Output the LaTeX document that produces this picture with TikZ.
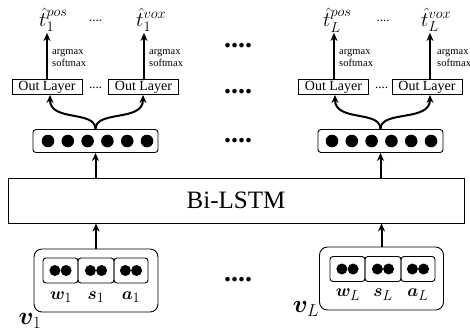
\documentclass[tikz,border=0pt]{standalone}
\usepackage{amsmath}
\usepackage{bm}
\usepackage{fontspec}
\setmainfont{Liberation Serif}
\usetikzlibrary{arrows.meta}

\tikzset{
  box/.style={draw, line width=0.9pt, inner sep=0pt},
  outlayer/.style={box, minimum width=70, minimum height=15, font=\fontsize{14}{14}\selectfont},
  hidbox/.style={box, rounded corners=3, minimum width=125, minimum height=23},
  inbox/.style={box, rounded corners=8, minimum width=124, minimum height=63},
  emb/.style={box, rounded corners=3, minimum height=25},
  up/.style={-{Stealth[length=8,width=7]}, line width=2pt},
  argtext/.style={align=left, inner sep=0pt, anchor=west, font=\fontsize{10.5}{12}\selectfont},
  that/.style={anchor=base west, inner sep=0pt, font=\fontsize{21}{21}\selectfont},
  dots/.style={font=\bfseries\fontsize{28}{28}\selectfont, inner sep=0pt},
  smalldots/.style={font=\fontsize{13}{13}\selectfont, inner sep=0pt}
}

\begin{document}
\begin{tikzpicture}[x=1pt, y=-1pt]
  \useasboundingbox (0,0) rectangle (470,333);

  % Bi-LSTM
  \node[box, minimum width=456, minimum height=45, font=\fontsize{25}{25}\selectfont] (lstm) at (236,200.5) {Bi-LSTM};

  % Hidden vectors
  \node[hidbox] (h1) at (95.5,141) {};
  \node[hidbox] (hL) at (380.5,141) {};
  \foreach \i in {0,...,5} {
    \fill (48+19.8*\i,141) circle (6.3);
    \fill (332+19.8*\i,141) circle (6.3);
  }
  \node[dots] (hdots) at (238,141) {....};
  \draw[up] (lstm.north -| h1) -- (h1.south);
  \draw[up] (lstm.north -| hL) -- (hL.south);

  % Out layers
  \node[outlayer] (o11) at (47,87) {Out Layer};
  \node[outlayer] (o12) at (143.5,87) {Out Layer};
  \node[outlayer] (oL1) at (333.5,87) {Out Layer};
  \node[outlayer] (oL2) at (427,87) {Out Layer};
  \node[smalldots] (od1) at (95.5,88) {....};
  \node[smalldots] (odL) at (381.5,88) {....};
  \node[dots] (odm) at (238,92) {....};

  \draw[up] (h1.north) .. controls (95.5,110) and (50,122) .. (o11.south -| 50,0);
  \draw[up] (h1.north) .. controls (95.5,110) and (143,122) .. (o12.south -| 143,0);
  \draw[up] (hL.north) .. controls (380.5,110) and (335,122) .. (oL1.south -| 335,0);
  \draw[up] (hL.north) .. controls (380.5,110) and (430,122) .. (oL2.south -| 430,0);

  % Outputs
  \coordinate (t11) at (47,33);
  \coordinate (t12) at (144,33);
  \coordinate (tL1) at (334,33);
  \coordinate (tL2) at (430,33);
  \draw[up] (o11.north -| t11) -- (t11);
  \draw[up] (o12.north -| t12) -- (t12);
  \draw[up] (oL1.north -| tL1) -- (tL1);
  \draw[up] (oL2.north -| tL2) -- (tL2);
  \node[argtext] (a11) at (52,58) {argmax\\softmax};
  \node[argtext] (a12) at (149,58) {argmax\\softmax};
  \node[argtext] (aL1) at (339,58) {argmax\\softmax};
  \node[argtext] (aL2) at (437,58) {argmax\\softmax};

  \node[that] (th11) at (39,26) {$\hat{t}_1^{pos}$};
  \node[that] (th12) at (136,26) {$\hat{t}_1^{vox}$};
  \node[that] (thL1) at (323,26) {$\hat{t}_L^{pos}$};
  \node[that] (thL2) at (421,26) {$\hat{t}_L^{vox}$};
  \node[smalldots] (td1) at (95.5,21) {....};
  \node[smalldots] (tdL) at (383,21) {....};
  \node[dots] (tdm) at (238,46) {....};

  % Inputs
  \node[inbox] (v1) at (96,280.5) {};
  \node[inbox] (vL) at (381.5,278.5) {};
  \draw[up] (v1.north) -- (v1.north |- lstm.south);
  \draw[up] (vL.north) -- (vL.north |- lstm.south);
  \node[dots] (vdm) at (238,280) {....};

  \node[emb, minimum width=35] (w1) at (60.5,270.5) {};
  \node[emb, minimum width=36] (s1) at (96,270.5) {};
  \node[emb, minimum width=34] (e1) at (131,270.5) {};
  \node[emb, minimum width=35] (wL) at (347.5,269) {};
  \node[emb, minimum width=36] (sL) at (383,269) {};
  \node[emb, minimum width=34] (eL) at (418,269) {};
  \foreach \n in {w1,s1,e1,wL,sL,eL} {
    \fill ([xshift=-5.6]\n.center) circle (5.5);
    \fill ([xshift=5.6]\n.center) circle (5.5);
  }
  \node[font=\fontsize{19}{19}\selectfont] (lw1) at (61,297) {$\bm{w}_1$};
  \node[font=\fontsize{19}{19}\selectfont] (ls1) at (96,297) {$\bm{s}_1$};
  \node[font=\fontsize{19}{19}\selectfont] (le1) at (131,297) {$\bm{a}_1$};
  \node[font=\fontsize{19}{19}\selectfont] (lwL) at (348,295) {$\bm{w}_L$};
  \node[font=\fontsize{19}{19}\selectfont] (lsL) at (383,295) {$\bm{s}_L$};
  \node[font=\fontsize{19}{19}\selectfont] (leL) at (418,295) {$\bm{a}_L$};
  \node[font=\fontsize{26}{26}\selectfont] (nv1) at (30,321) {$\bm{v}_1$};
  \node[font=\fontsize{26}{26}\selectfont] (nvL) at (306,309) {$\bm{v}_L$};
\end{tikzpicture}
\end{document}
